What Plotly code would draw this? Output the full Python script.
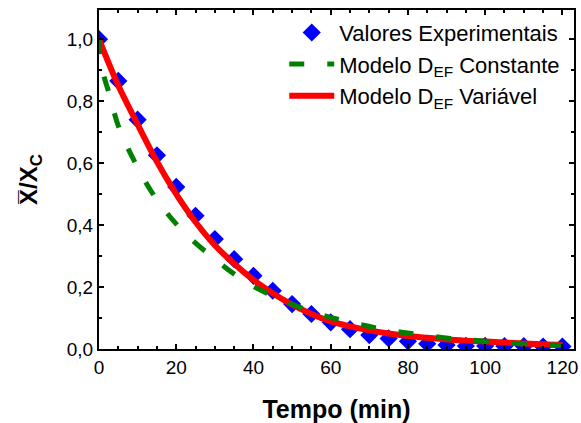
import plotly.graph_objects as go

# Experimental values
t_exp = [0, 5, 10, 15, 20, 25, 30, 35, 40, 45, 50, 55, 60, 65, 70, 75, 80, 85, 90, 95, 100, 105, 110, 115, 120]
y_exp = [1.0, 0.865, 0.74, 0.625, 0.523, 0.43, 0.355, 0.29, 0.236, 0.188, 0.145, 0.113, 0.086, 0.064, 0.045, 0.034, 0.025, 0.017, 0.013, 0.01, 0.01, 0.009, 0.009, 0.008, 0.008]

# Model: constant effective diffusivity
t_const = [0, 0.2, 0.6, 1.5, 2.5, 5, 9, 14, 21, 30, 38.5, 47, 56, 64.5, 73.5, 82, 91, 99.5, 108, 117, 120]
y_const = [1.0, 0.95, 0.915, 0.87, 0.83, 0.72, 0.61, 0.5, 0.39, 0.29, 0.213, 0.16, 0.117, 0.088, 0.064, 0.048, 0.034, 0.026, 0.018, 0.013, 0.012]

# Model: variable effective diffusivity
t_var = [0, 5, 10, 15, 20, 25, 30, 35, 40, 45, 50, 55, 60, 65, 70, 75, 80, 85, 90, 95, 100, 105, 110, 115, 120]
y_var = [1.0, 0.85, 0.725, 0.605, 0.5, 0.41, 0.335, 0.275, 0.223, 0.18, 0.143, 0.113, 0.089, 0.073, 0.06, 0.05, 0.042, 0.036, 0.031, 0.027, 0.024, 0.021, 0.018, 0.015, 0.013]

x_ticks = [0, 20, 40, 60, 80, 100, 120]
y_ticks = [0.0, 0.2, 0.4, 0.6, 0.8, 1.0]

FONT = "Liberation Sans, Arial, sans-serif"

fig = go.Figure()
fig.add_trace(go.Scatter(
    x=t_exp, y=y_exp, mode="markers", name="Valores Experimentais",
    marker=dict(symbol="diamond", size=14, color="#0000FF"),
    legendrank=1,
))
fig.add_trace(go.Scatter(
    x=t_var, y=y_var, mode="lines", name="Modelo D<sub>EF</sub> Variável",
    line=dict(color="#FF0000", width=6, shape="spline"),
    legendrank=3,
))
fig.add_trace(go.Scatter(
    x=t_const, y=y_const, mode="lines", name="Modelo D<sub>EF</sub> Constante",
    line=dict(color="#008000", width=5, dash="15px,23px", shape="spline"),
    legendrank=2,
))

axis_common = dict(
    showline=True, linecolor="black", linewidth=2, mirror="ticks",
    ticks="inside", ticklen=5, tickwidth=1.5, tickcolor="black",
    showgrid=False, zeroline=False,
    tickfont=dict(family=FONT, size=19, color="black"),
)

fig.update_xaxes(
    range=[0, 123], tickvals=x_ticks,
    minor=dict(dtick=5, ticks="inside", ticklen=3, tickcolor="black", tickwidth=1.5),
    title=dict(text="<b>Tempo (min)</b>", font=dict(family=FONT, size=25, color="black"), standoff=24),
    **axis_common,
)
fig.update_yaxes(
    range=[0, 1.094], tickvals=y_ticks, tickformat=".1f",
    minor=dict(dtick=0.1, ticks="inside", ticklen=3, tickcolor="black", tickwidth=1.5),
    title=dict(text="<b>X\u0305/X<sub>C</sub></b>", font=dict(family=FONT, size=24, color="black"), standoff=22),
    **axis_common,
)

fig.update_layout(
    width=581, height=423,
    margin=dict(l=99, r=3, t=10, b=74),
    paper_bgcolor="white", plot_bgcolor="white",
    separators=", ",
    font=dict(family=FONT, color="black"),
    legend=dict(
        x=0.39, y=0.995, xanchor="left", yanchor="top",
        bgcolor="rgba(0,0,0,0)", borderwidth=0, itemwidth=45,
        font=dict(family=FONT, size=22, color="black"),
    ),
)

fig.write_html("out.html")
